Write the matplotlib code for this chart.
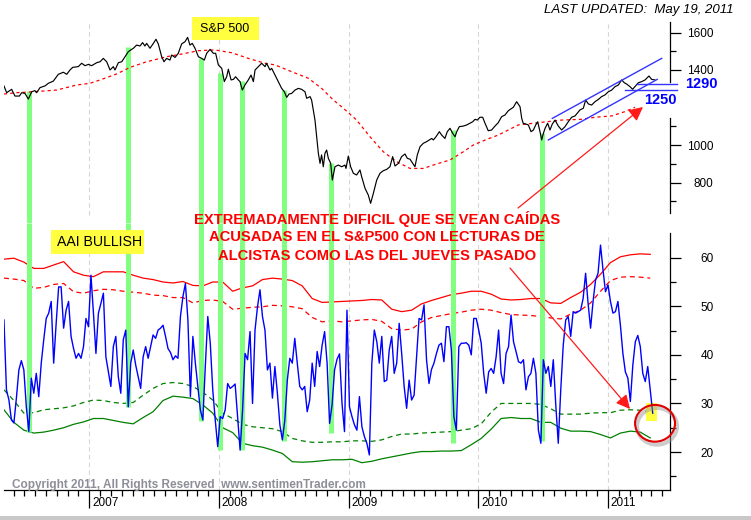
import matplotlib
matplotlib.use("Agg")
import matplotlib.pyplot as plt
import numpy as np
from matplotlib.patches import Rectangle, Ellipse, FancyArrowPatch

W, H = 751, 520

# S&P 500 (decimal year, index level)
sp_t = [2006.342, 2006.363, 2006.401, 2006.427, 2006.461, 2006.479, 2006.504, 2006.530, 2006.556, 2006.581,
        2006.594, 2006.620, 2006.658, 2006.684, 2006.723, 2006.761, 2006.800, 2006.826, 2006.851, 2006.872,
        2006.915, 2006.941, 2006.967, 2006.993, 2007.018, 2007.057, 2007.083, 2007.108, 2007.134, 2007.160,
        2007.185, 2007.198, 2007.224, 2007.250, 2007.275, 2007.301, 2007.340, 2007.365, 2007.391, 2007.411,
        2007.429, 2007.442, 2007.468, 2007.494, 2007.514, 2007.532, 2007.558, 2007.576, 2007.596, 2007.622,
        2007.635, 2007.661, 2007.686, 2007.712, 2007.738, 2007.758, 2007.776, 2007.794, 2007.815, 2007.841,
        2007.866, 2007.887, 2007.905, 2007.931, 2007.956, 2007.974, 2007.995, 2008.021, 2008.041, 2008.059,
        2008.072, 2008.093, 2008.111, 2008.128, 2008.149, 2008.162, 2008.180, 2008.200, 2008.226, 2008.247,
        2008.265, 2008.278, 2008.303, 2008.329, 2008.355, 2008.367, 2008.393, 2008.406, 2008.432, 2008.457,
        2008.483, 2008.504, 2008.522, 2008.540, 2008.560, 2008.586, 2008.612, 2008.637, 2008.663, 2008.676,
        2008.702, 2008.714, 2008.727, 2008.740, 2008.753, 2008.766, 2008.779, 2008.791, 2008.804, 2008.817,
        2008.830, 2008.843, 2008.861, 2008.874, 2008.894, 2008.920, 2008.946, 2008.971, 2008.979, 2008.997,
        2009.015, 2009.036, 2009.061, 2009.087, 2009.100, 2009.126, 2009.151, 2009.169, 2009.190, 2009.216,
        2009.241, 2009.267, 2009.293, 2009.318, 2009.339, 2009.357, 2009.383, 2009.408, 2009.434, 2009.452,
        2009.473, 2009.485, 2009.511, 2009.529, 2009.550, 2009.575, 2009.601, 2009.622, 2009.640, 2009.653,
        2009.673, 2009.699, 2009.717, 2009.742, 2009.760, 2009.781, 2009.802, 2009.820, 2009.833, 2009.853,
        2009.884, 2009.910, 2009.935, 2009.956, 2009.974, 2009.992, 2010.012, 2010.033, 2010.051, 2010.076,
        2010.102, 2010.128, 2010.153, 2010.179, 2010.205, 2010.231, 2010.269, 2010.295, 2010.321, 2010.334,
        2010.346, 2010.364, 2010.385, 2010.406, 2010.424, 2010.442, 2010.457, 2010.475, 2010.488, 2010.501,
        2010.514, 2010.534, 2010.552, 2010.570, 2010.591, 2010.616, 2010.642, 2010.668, 2010.693, 2010.719,
        2010.745, 2010.783, 2010.809, 2010.827, 2010.848, 2010.873, 2010.899, 2010.925, 2010.950, 2010.976,
        2011.002, 2011.028, 2011.053, 2011.079, 2011.105, 2011.125, 2011.143, 2011.169, 2011.189, 2011.207,
        2011.233, 2011.259, 2011.285, 2011.315, 2011.336, 2011.361]
sp_v = [1315, 1279, 1297, 1261, 1261, 1279, 1275, 1245, 1284, 1290,
        1279, 1306, 1315, 1329, 1341, 1377, 1388, 1377, 1400, 1414,
        1418, 1436, 1423, 1430, 1423, 1439, 1444, 1462, 1444, 1400,
        1418, 1400, 1439, 1444, 1471, 1498, 1516, 1533, 1528, 1546,
        1528, 1542, 1516, 1542, 1564, 1539, 1471, 1444, 1462, 1453,
        1480, 1467, 1489, 1539, 1551, 1574, 1533, 1542, 1516, 1471,
        1462, 1453, 1489, 1510, 1489, 1489, 1427, 1409, 1338, 1364,
        1404, 1347, 1350, 1364, 1347, 1338, 1293, 1320, 1347, 1373,
        1338, 1400, 1418, 1436, 1418, 1436, 1400, 1409, 1373, 1338,
        1302, 1284, 1254, 1272, 1275, 1293, 1302, 1297, 1284, 1249,
        1258, 1240, 1187, 1133, 1044, 956, 902, 947, 884, 956,
        973, 929, 902, 813, 884, 893, 884, 893, 875, 941,
        884, 849, 840, 867, 831, 769, 733, 689, 742, 813,
        849, 863, 870, 884, 938, 888, 902, 938, 952, 929,
        924, 911, 884, 947, 991, 1009, 1018, 1027, 1035, 1027,
        1044, 1071, 1053, 1035, 1071, 1089, 1062, 1044, 1071, 1098,
        1101, 1107, 1116, 1124, 1137, 1133, 1148, 1148, 1116, 1076,
        1080, 1101, 1119, 1151, 1160, 1183, 1201, 1231, 1204, 1142,
        1115, 1112, 1107, 1071, 1080, 1107, 1124, 1071, 1027, 1062,
        1089, 1116, 1080, 1112, 1133, 1101, 1080, 1098, 1124, 1148,
        1155, 1187, 1196, 1240, 1219, 1213, 1231, 1243, 1258, 1267,
        1284, 1293, 1311, 1320, 1347, 1332, 1325, 1311, 1297, 1311,
        1332, 1338, 1347, 1368, 1350, 1347]

# red dotted moving average on the S&P panel
ma_t = [2006.342, 2006.440, 2006.568, 2006.748, 2006.903, 2007.005, 2007.083, 2007.211, 2007.314, 2007.442,
        2007.519, 2007.596, 2007.712, 2007.841, 2007.969, 2008.098, 2008.226, 2008.355, 2008.432, 2008.560,
        2008.689, 2008.791, 2008.882, 2008.959, 2009.061, 2009.164, 2009.267, 2009.370, 2009.473, 2009.575,
        2009.678, 2009.781, 2009.884, 2009.961, 2010.064, 2010.153, 2010.205, 2010.308, 2010.462, 2010.642,
        2010.796, 2010.899, 2011.028, 2011.130, 2011.207]
ma_v = [1272, 1279, 1284, 1293, 1320, 1329, 1347, 1379, 1414, 1444,
        1457, 1471, 1485, 1503, 1507, 1492, 1462, 1436, 1427, 1391,
        1356, 1302, 1240, 1196, 1133, 1044, 964, 911, 875, 875,
        899, 920, 964, 1000, 1030, 1053, 1071, 1107, 1119, 1133,
        1137, 1148, 1155, 1178, 1201]

# AAII bullish %, weekly from the first week on the chart
aaii_start = 2006.342
aaii_bull = [
    47.2, 32.8, 30.7, 26.6, 26.0, 31.1, 36.9, 38.8, 36.9, 29.3,
    24.2, 35.2, 32.1, 36.2, 31.4, 38.3, 43.1, 47.5, 48.6, 51.0,
    38.3, 46.5, 54.0, 54.0, 45.5, 49.2, 51.0, 43.8, 41.3, 39.3,
    40.3, 39.3, 41.7, 47.5, 45.8, 56.4, 48.6, 40.3, 48.6, 50.6,
    52.7, 39.6, 36.5, 33.5, 41.7, 43.8, 35.5, 32.1, 43.1, 45.1,
    29.3, 38.3, 41.0, 37.9, 35.5, 33.1, 39.6, 41.7, 39.3, 41.7,
    44.1, 43.4, 45.1, 45.5, 46.1, 43.8, 41.3, 40.5, 39.0, 39.8,
    39.3, 47.9, 52.0, 54.7, 47.2, 31.4, 43.8, 38.3, 33.5, 28.7,
    26.6, 37.6, 47.9, 42.4, 32.8, 26.6, 21.1, 27.3, 26.9, 28.7,
    34.1, 33.1, 33.5, 34.0, 27.3, 20.4, 28.7, 40.3, 39.0, 44.8,
    30.0, 45.1, 49.9, 53.4, 47.9, 45.1, 36.9, 38.3, 31.1, 37.6,
    32.1, 25.6, 22.5, 26.6, 34.8, 39.3, 38.3, 43.4, 38.3, 33.5,
    32.8, 33.5, 28.3, 30.7, 38.3, 33.5, 40.7, 37.6, 42.0, 44.8,
    38.3, 25.9, 29.7, 36.9, 39.1, 40.2, 30.0, 24.2, 49.2, 29.3,
    27.3, 25.6, 24.5, 31.4, 25.2, 23.2, 21.8, 19.4, 38.3, 45.1,
    42.7, 38.3, 43.8, 34.5, 34.8, 41.0, 43.8, 36.2, 38.3, 46.5,
    40.3, 33.5, 29.0, 34.8, 30.7, 31.7, 39.6, 47.5, 47.2, 50.3,
    39.0, 34.1, 37.0, 38.3, 40.3, 42.0, 42.4, 38.6, 45.8, 45.8,
    41.0, 27.3, 24.5, 41.7, 42.4, 42.4, 42.5, 42.0, 40.0, 47.5,
    47.5, 45.1, 42.4, 36.2, 32.1, 36.5, 37.2, 36.2, 39.6, 45.1,
    36.2, 34.1, 40.3, 41.7, 48.2, 42.7, 40.7, 38.6, 38.3, 39.0,
    32.8, 35.5, 36.2, 39.3, 36.2, 24.5, 21.8, 39.0, 36.2, 37.6,
    33.5, 39.0, 29.7, 21.8, 32.8, 42.0, 47.2, 47.9, 43.8, 48.9,
    48.6, 48.9, 49.2, 51.6, 56.8, 50.6, 45.5, 51.0, 55.4, 56.8,
    62.6, 57.5, 53.0, 54.4, 51.0, 48.6, 48.9, 51.0, 46.1, 40.3,
    36.5, 35.2, 30.4, 37.9, 42.7, 44.0, 41.7, 36.2, 34.5, 37.6,
    32.8, 28.0]

# bands around the AAII reading, one value every four weeks
band_upper = [59.7, 59.9, 59.1, 57.8, 57.8, 58.5, 59.2, 57.1, 56.4, 56.1,
              57.1, 57.1, 57.1, 56.4, 55.8, 55.5, 55.0, 54.8, 55.1, 54.3,
              54.2, 55.0, 55.0, 53.1, 53.8, 54.2, 55.5, 55.8, 55.6, 55.3,
              54.2, 51.6, 50.8, 50.9, 51.0, 51.1, 51.2, 51.4, 51.3, 49.4,
              48.9, 49.2, 50.5, 51.2, 51.8, 52.4, 52.7, 53.1, 53.1, 52.5,
              51.5, 51.3, 51.4, 51.6, 51.6, 50.7, 50.6, 51.8, 52.9, 54.5,
              56.6, 59.0, 60.2, 60.6, 60.8, 60.7]
band_upper_mid = [55.8, 55.6, 55.3, 53.7, 53.9, 54.5, 54.7, 53.0, 52.7, 53.2,
                  53.5, 53.4, 53.1, 52.9, 52.7, 52.3, 52.2, 51.8, 51.8, 50.7,
                  51.2, 51.3, 51.0, 49.4, 49.6, 49.8, 49.9, 50.2, 50.1, 49.9,
                  49.5, 47.7, 46.8, 47.0, 46.8, 47.0, 47.2, 47.3, 46.9, 45.4,
                  45.1, 45.3, 46.8, 47.7, 48.1, 48.5, 48.8, 49.2, 49.4, 49.2,
                  48.7, 48.3, 48.2, 48.1, 47.9, 47.6, 47.4, 48.4, 49.2, 50.7,
                  53.1, 55.3, 56.0, 56.1, 56.0, 55.8]
band_lower_mid = [32.8, 30.6, 28.0, 28.1, 28.7, 28.9, 29.1, 29.5, 30.2, 30.7,
                  30.6, 30.2, 30.0, 30.2, 31.7, 33.1, 34.1, 34.3, 34.1, 33.5,
                  32.3, 30.7, 28.0, 26.9, 25.7, 25.2, 25.0, 24.8, 24.2, 22.8,
                  22.3, 22.0, 22.0, 22.1, 22.1, 22.3, 22.3, 22.2, 22.5, 23.2,
                  23.7, 23.7, 23.9, 24.0, 24.1, 24.2, 24.5, 24.8, 25.8, 28.2,
                  30.0, 30.0, 30.0, 30.0, 29.8, 28.9, 27.8, 27.8, 27.8, 28.0,
                  28.1, 28.1, 28.6, 28.7, 28.6, 28.2]
band_lower = [28.7, 26.1, 24.5, 23.9, 24.1, 24.5, 25.0, 25.7, 26.2, 26.9,
              26.9, 26.5, 26.1, 25.8, 27.1, 28.3, 30.6, 31.5, 31.3, 31.0,
              29.7, 28.0, 25.0, 24.0, 21.8, 21.3, 21.0, 20.4, 19.7, 18.0,
              17.9, 18.0, 18.2, 18.4, 18.4, 18.5, 17.8, 18.1, 18.6, 19.0,
              19.4, 19.8, 20.1, 20.1, 20.2, 20.2, 20.3, 21.5, 22.8, 24.7,
              26.9, 27.1, 26.9, 26.9, 26.1, 26.1, 24.9, 24.3, 24.3, 24.2,
              23.6, 22.9, 23.9, 24.3, 24.1, 22.9]

# green signal bars: date, S&P level at the top, AAII level at the bottom
bar_t = [2006.537, 2007.301, 2007.861, 2008.005, 2008.177, 2008.501, 2008.866, 2009.802, 2010.488]
bar_sp = [1290, 1521, 1462, 1386, 1341, 1293, 902, 1080, 1066]
bar_aaii = [24.1, 29.3, 26.4, 20.4, 20.4, 22.3, 23.9, 21.8, 22.3]

years = [2007, 2008, 2009, 2010, 2011]
sp_ticks = [800, 1000, 1400, 1600]
sp_minor = [700, 900, 1100, 1500]
aaii_ticks = [20, 30, 40, 50, 60]
aaii_minor = [15, 25, 35, 45, 55]

# hand drawn channel on the S&P (decimal year, level)
channel_up = ([2010.570, 2011.413], [1142, 1462])
channel_low = ([2010.539, 2011.379], [1027, 1350])
level_1290 = ([2011.220, 2011.528], [1324, 1324])
level_1250 = ([2011.130, 2011.528], [1293, 1293])

RED = "#ff0000"
GREEN = "#008000"
BLUE = "#0000ff"
BAR = "#80ff80"
YELLOW = "#ffff40"
GRID = "#d6d6d6"

plt.rcParams['font.family'] = ['Liberation Sans', 'DejaVu Sans']


def fig_xy(x, y):
    """pixel position (from top left) to figure fraction"""
    return x / W, 1 - y / H


fig = plt.figure(figsize=(W / 100, H / 100), dpi=100, facecolor="white")
ax1 = fig.add_axes([4 / W, 1 - 223 / H, 666 / W, 201 / H], facecolor="none")
ax2 = fig.add_axes([4 / W, 1 - 490 / H, 666 / W, 267 / H], facecolor="none")

xlim = (2006.3423, 2011.4773)
ax1.set_xlim(xlim)
ax2.set_xlim(xlim)
ax1.set_ylim(584, 1656)
ax2.set_ylim(12.18, 67.15)

aaii_t = aaii_start + np.arange(len(aaii_bull)) * 7 / 365.25
band_t = aaii_start + np.arange(len(band_upper)) * 28 / 365.25

# year grid
for y in years:
    ax1.axvline(y, ymin=0.04, ymax=1, color=GRID, lw=0.8, ls=(0, (4, 3)), zorder=0)
    ax2.axvline(y, ymin=0, ymax=0.9625, color=GRID, lw=0.8, ls=(0, (4, 3)), zorder=0)

# signal bars, split across the two panels
lc = ax1.vlines(bar_t, ax1.get_ylim()[0], bar_sp, colors=BAR, lw=3.6, zorder=1)
lc.set_capstyle("butt")
lc = ax2.vlines(bar_t, bar_aaii, ax2.get_ylim()[1], colors=BAR, lw=3.6, zorder=2.5)
lc.set_capstyle("butt")

# upper panel
ax1.plot(ma_t, ma_v, color=RED, lw=0.9, ls=(0, (2.5, 2.5)), zorder=2)
ax1.plot(sp_t, sp_v, color="black", lw=0.85, zorder=3)
for xs, ys in (channel_up, channel_low, level_1290, level_1250):
    ax1.plot(xs, ys, color="#3434ff", lw=1.0, zorder=3, clip_on=False)

# lower panel
ax2.plot(band_t, band_upper, color=RED, lw=0.9, zorder=2)
ax2.plot(band_t, band_upper_mid, color=RED, lw=0.9, ls=(0, (4, 3)), zorder=2)
ax2.plot(band_t, band_lower_mid, color=GREEN, lw=0.9, ls=(0, (4, 3)), zorder=2)
ax2.plot(band_t, band_lower, color=GREEN, lw=0.9, zorder=2)
ax2.add_patch(Rectangle((2011.292, 26.38), 0.087, 3.65, color=YELLOW, zorder=2.8, lw=0))
ax2.plot(aaii_t, aaii_bull, color=BLUE, lw=1.0, zorder=3)

# circle with soft shadow around the latest reading
ax2.add_patch(Ellipse((2011.377, 25.3), 0.308, 7.56, fill=False, ec="#9a9a9a",
                      lw=3.0, alpha=0.5, zorder=4, clip_on=False))
ax2.add_patch(Ellipse((2011.362, 25.91), 0.308, 7.56, fill=False, ec="#e00000",
                      lw=1.5, zorder=5, clip_on=False))

# spines and ticks
for sp in ax1.spines.values():
    sp.set_visible(False)
ytr = ax1.get_yaxis_transform()
ax1.plot([1, 1], [1336, 1656], transform=ytr, color="black", lw=0.9, clip_on=False)
ax1.plot([1, 1], [637, 1144], transform=ytr, color="black", lw=0.9, clip_on=False)
ax1.yaxis.tick_right()
ax1.set_yticks(sp_ticks)
ax1.set_yticks(sp_minor, minor=True)
ax1.tick_params(axis="y", which="major", length=8, width=0.9, pad=23, labelsize=8.5)
ax1.tick_params(axis="y", which="minor", length=4, width=0.9)
plt.setp(ax1.get_yticklabels(), ha="right")
ax1.tick_params(axis="x", which="both", bottom=False, labelbottom=False)

ax2.spines["top"].set_visible(False)
ax2.spines["left"].set_visible(False)
ax2.spines["right"].set_bounds(12.18, 65.1)
ax2.spines["right"].set_linewidth(0.9)
ax2.spines["bottom"].set_linewidth(0.9)
ax2.yaxis.tick_right()
ax2.set_yticks(aaii_ticks)
ax2.set_yticks(aaii_minor, minor=True)
ax2.tick_params(axis="y", which="major", length=8, width=0.9, pad=23.7, labelsize=8.5)
ax2.tick_params(axis="y", which="minor", length=4, width=0.9)
plt.setp(ax2.get_yticklabels(), ha="right")

months = np.arange(2006 + 5 / 12, 2011.45, 1 / 12)
ax2.set_xticks(years)
ax2.set_xticks(months, minor=True)
ax2.set_xticklabels([])
ax2.tick_params(axis="x", which="major", length=13, width=0.9)
ax2.tick_params(axis="x", which="minor", length=4.3, width=0.9)
for y in years:
    ax2.annotate(str(y), xy=(y, 0), xycoords=("data", "axes fraction"), xytext=(2, -9),
                 textcoords="offset points", ha="left", va="center", fontsize=8.5)

# labels and annotations
fig.text(*fig_xy(733, 10), "LAST UPDATED:  May 19, 2011", ha="right", va="center",
         fontsize=9.5, style="italic")

x0, y0 = fig_xy(192, 40)
fig.add_artist(Rectangle((x0, y0), 67 / W, 23 / H, transform=fig.transFigure,
                         color=YELLOW, lw=0, zorder=6))
fig.text(*fig_xy(225, 29.5), "S&P 500", ha="center", va="center", fontsize=9,
         zorder=7)

x0, y0 = fig_xy(51, 254)
fig.add_artist(Rectangle((x0, y0), 93 / W, 24 / H, transform=fig.transFigure,
                         color=YELLOW, lw=0, zorder=6))
fig.text(*fig_xy(100, 242), "AAI BULLISH", ha="center", va="center", fontsize=10.2,
         zorder=7)

fig.text(*fig_xy(701, 84.5), "1290", ha="center", va="center", fontsize=10.5,
         fontweight="bold", color=BLUE, zorder=7)
fig.text(*fig_xy(660, 99.5), "1250", ha="center", va="center", fontsize=10.5,
         fontweight="bold", color=BLUE, zorder=7)

note = ["EXTREMADAMENTE DIFICIL QUE SE VEAN CAÍDAS",
        "ACUSADAS EN EL S&P500 CON LECTURAS DE",
        "ALCISTAS COMO LAS DEL JUEVES PASADO"]
for k, line in enumerate(note):
    fig.text(*fig_xy(377, 219 + 18.3 * k), line, ha="center", va="center", fontsize=10.6,
             fontweight="bold", color=RED, zorder=7)

for tail, tip in (((518, 208), (643, 107)), ((510, 268), (630, 409))):
    fig.add_artist(FancyArrowPatch(fig_xy(*tail), fig_xy(*tip), transform=fig.transFigure,
                                   arrowstyle="-|>,head_length=0.6,head_width=0.3",
                                   mutation_scale=14, color="#ff1a1a", lw=0.9,
                                   shrinkA=0, shrinkB=0, zorder=7))

fig.text(*fig_xy(12, 485), "Copyright 2011, All Rights Reserved  www.sentimenTrader.com",
         ha="left", va="center", fontsize=8.5, fontweight="bold", color="#8e8e98", zorder=7)

fig.add_artist(Rectangle((0, 0), 1, 4 / H, transform=fig.transFigure, color="#c8c8c8", lw=0))

fig.savefig("out.png", dpi=100, facecolor="white")
